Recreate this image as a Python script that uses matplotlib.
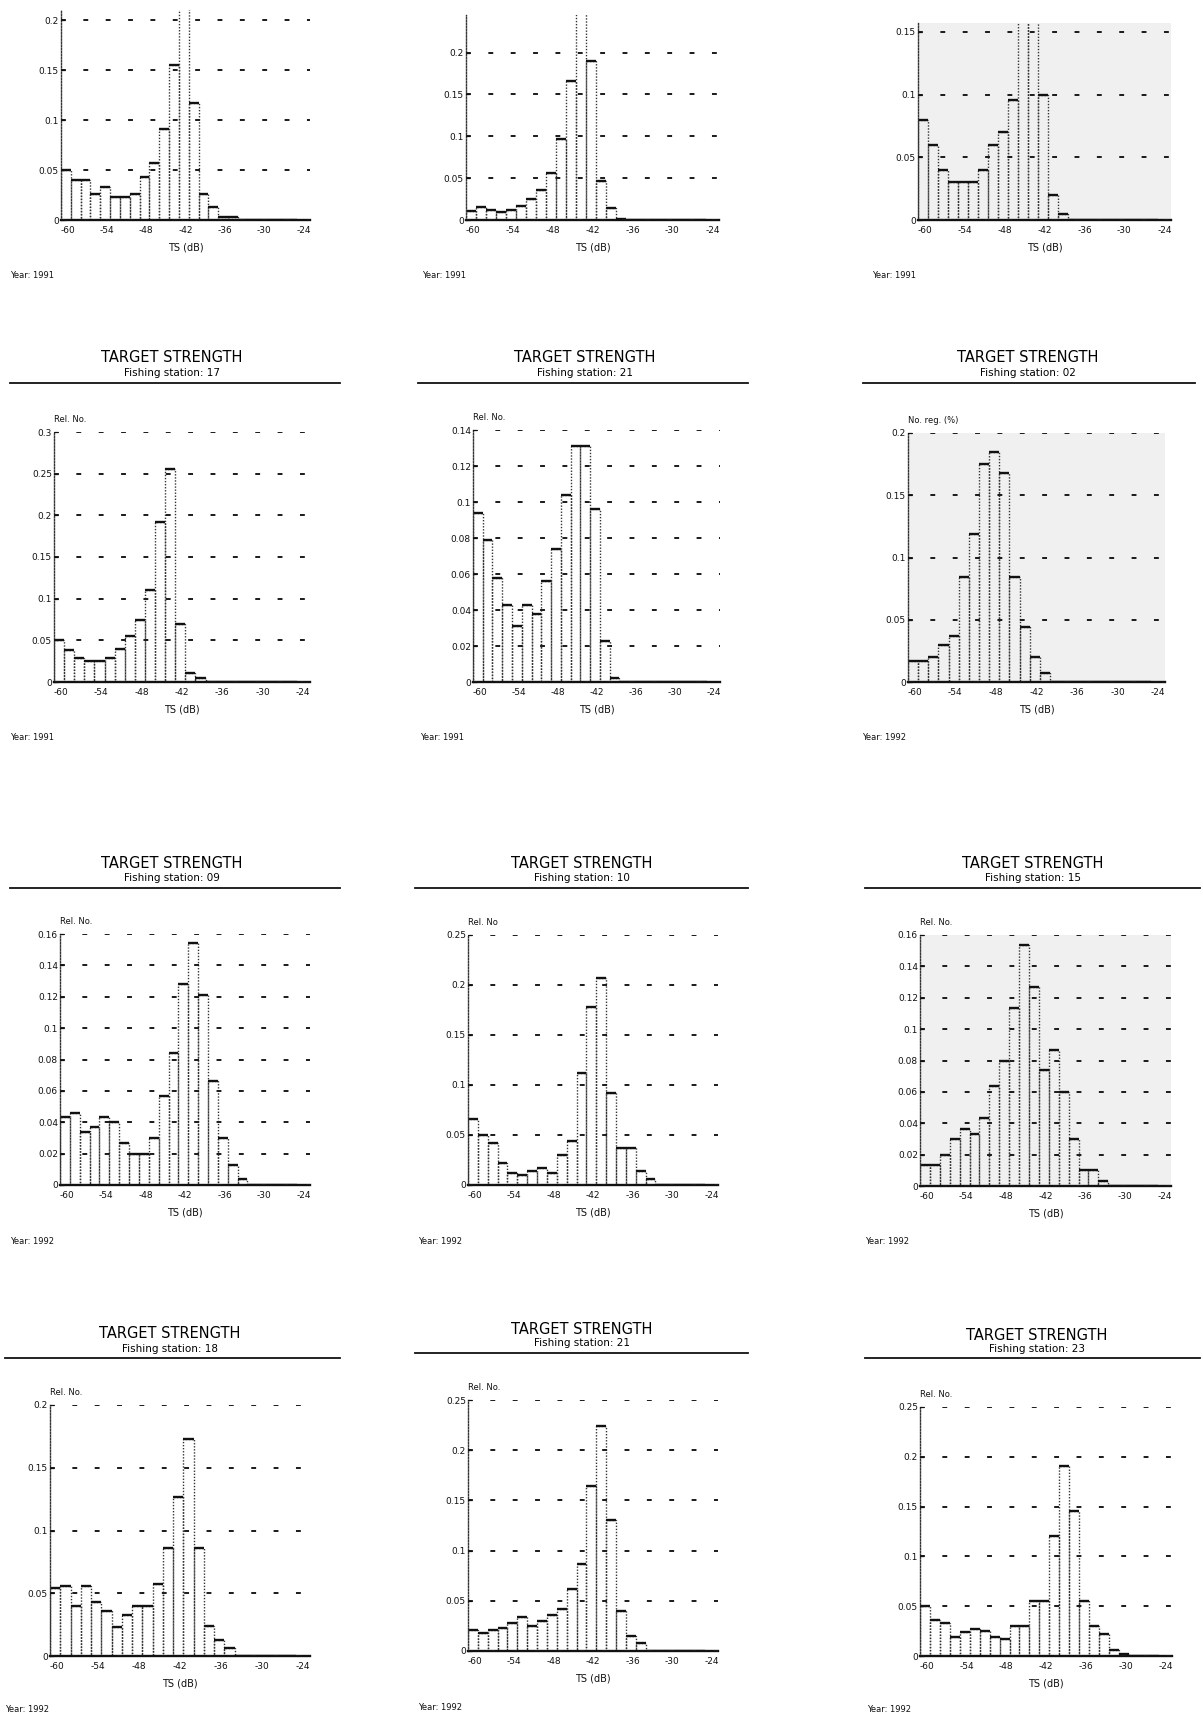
import numpy as np
import matplotlib
matplotlib.use('Agg')
import matplotlib.pyplot as plt
from matplotlib.lines import Line2D

plt.rcParams['font.family'] = ['DejaVu Sans']
plt.rcParams['axes.unicode_minus'] = False

W, H = 1203, 1720

# relative numbers per 1.5 dB TS bin, first bin starts at -61 dB
# (top-row peaks are clipped in the scan, their heights are guesses)
st_a_1991 = [0.05, 0.04, 0.04, 0.026, 0.033, 0.023, 0.023, 0.026, 0.043, 0.057, 0.091, 0.155,
             0.25, 0.117, 0.026, 0.013, 0.003, 0.003]
st_b_1991 = [0.011, 0.015, 0.012, 0.01, 0.012, 0.017, 0.025, 0.036, 0.056, 0.097, 0.166, 0.27,
             0.19, 0.047, 0.014, 0.001]
st_c_1991 = [0.08, 0.06, 0.04, 0.03, 0.03, 0.03, 0.04, 0.06, 0.07, 0.096, 0.18, 0.18,
             0.1, 0.02, 0.005]
st17_1991 = [0.05, 0.039, 0.029, 0.025, 0.025, 0.029, 0.04, 0.055, 0.075, 0.11, 0.192, 0.256,
             0.07, 0.011, 0.005]
st21_1991 = [0.094, 0.079, 0.058, 0.043, 0.031, 0.043, 0.038, 0.056, 0.074, 0.104, 0.131, 0.131,
             0.096, 0.023, 0.0025]
st02_1992 = [0.0166, 0.0166, 0.02, 0.03, 0.037, 0.084, 0.119, 0.175, 0.185, 0.168, 0.084, 0.044,
             0.02, 0.007]
st09_1992 = [0.0436, 0.046, 0.034, 0.037, 0.0436, 0.04, 0.027, 0.02, 0.02, 0.03, 0.057, 0.084,
             0.128, 0.154, 0.121, 0.0666, 0.03, 0.013, 0.0036]
st10_1992 = [0.066, 0.05, 0.042, 0.022, 0.0123, 0.01, 0.014, 0.0173, 0.0123, 0.03, 0.044, 0.112,
             0.178, 0.207, 0.092, 0.037, 0.037, 0.014, 0.006]
st15_1992 = [0.0136, 0.0136, 0.02, 0.03, 0.0366, 0.0334, 0.0435, 0.064, 0.08, 0.1136, 0.1536, 0.127,
             0.0738, 0.087, 0.06, 0.03, 0.01, 0.01, 0.003]
st18_1992 = [0.054, 0.056, 0.04, 0.056, 0.043, 0.036, 0.023, 0.033, 0.04, 0.04, 0.057, 0.086,
             0.127, 0.173, 0.086, 0.024, 0.013, 0.006]
st21_1992 = [0.0207, 0.018, 0.0207, 0.023, 0.028, 0.034, 0.025, 0.03, 0.0357, 0.042, 0.062, 0.087,
             0.164, 0.224, 0.13, 0.04, 0.015, 0.008]
st23_1992 = [0.05, 0.036, 0.033, 0.019, 0.024, 0.027, 0.025, 0.019, 0.017, 0.03, 0.03, 0.055,
             0.055, 0.12, 0.191, 0.146, 0.055, 0.03, 0.022, 0.006, 0.002]

series = [st_a_1991, st_b_1991, st_c_1991, st17_1991, st21_1991, st02_1992,
          st09_1992, st10_1992, st15_1992, st18_1992, st21_1992, st23_1992]
stations = [None, None, None, '17', '21', '02', '09', '10', '15', '18', '21', '23']
years = [1991, 1991, 1991, 1991, 1991, 1992, 1992, 1992, 1992, 1992, 1992, 1992]
ylabels = [None, None, None, 'Rel. No.', 'Rel. No.', 'No. reg. (%)',
           'Rel. No.', 'Rel. No', 'Rel. No.', 'Rel. No.', 'Rel. No.', 'Rel. No.']
ytops = [0.21, 0.245, 0.157, 0.3, 0.14, 0.2, 0.16, 0.25, 0.16, 0.2, 0.25, 0.25]
ysteps = [0.05, 0.05, 0.05, 0.05, 0.02, 0.05, 0.02, 0.05, 0.02, 0.05, 0.05, 0.05]
xticks = [-60, -54, -48, -42, -36, -30, -24]
bin_start, bin_width, n_bins = -61, 1.5, 24

# layout in pixels: axes box (left, top, right, bottom)
boxes = [(61, 10, 310, 220), (466, 15, 719, 220), (918, 23, 1171, 220),
         (54, 432, 310, 682), (473, 430, 720, 682), (908, 433, 1165, 682),
         (60, 934, 310, 1185), (468, 935, 718, 1185), (920, 935, 1171, 1186),
         (50, 1405, 310, 1656), (468, 1400, 718, 1651), (920, 1407, 1172, 1656)]
# header: (center x, title y, station y, rule y, rule x0, rule x1)
headers = [None, None, None,
           (172, 358, 373, 383, 10, 340), (585, 358, 373, 383, 418, 748), (1028, 358, 373, 383, 863, 1195),
           (172, 863, 878, 888, 10, 340), (582, 863, 878, 888, 415, 748), (1033, 863, 878, 888, 865, 1200),
           (170, 1334, 1349, 1358, 5, 340), (582, 1330, 1343, 1353, 415, 748), (1037, 1335, 1349, 1358, 865, 1200)]
year_pos = [(10, 276), (422, 276), (872, 276), (10, 737), (420, 737), (862, 737),
            (10, 1241), (418, 1241), (865, 1241), (5, 1710), (418, 1707), (867, 1710)]
shaded = [False, False, True, False, False, True, False, False, True, False, False, False]


def fx(x):
    return x / W


def fy(y):
    return 1 - y / H


fig = plt.figure(figsize=(W / 100, H / 100), dpi=100)

for i, vals in enumerate(series):
    l, t, r, b = boxes[i]
    ax = fig.add_axes([fx(l), fy(b), fx(r) - fx(l), fy(t) - fy(b)])
    if shaded[i]:
        ax.set_facecolor('#f0f0f0')

    v = np.zeros(n_bins)
    v[:len(vals)] = vals
    edges = bin_start + bin_width * np.arange(n_bins + 1)

    ax.bar(edges[:-1], v, width=bin_width, align='edge', fill=False,
           edgecolor='#333333', linestyle=(0, (1, 1.2)), linewidth=1.0)
    ax.hlines(v, edges[:-1], edges[1:], color='#111111', linewidth=1.7)

    ax.set_xlim(-61, -23)
    ax.set_ylim(0, ytops[i])
    ax.set_xticks(xticks)
    ax.set_xticklabels([str(x) for x in xticks])
    yt = np.arange(0, ytops[i] + 1e-6, ysteps[i])
    ax.set_yticks(yt)
    ax.set_yticklabels(['%g' % round(y, 3) for y in yt])
    ax.yaxis.grid(True, linestyle=(0, (2.5, 9)), color='#1a1a1a', linewidth=1.4)
    ax.set_axisbelow(False)
    ax.tick_params(axis='y', direction='in', length=3, width=0.9, labelsize=6.5, pad=1.5, colors='#111111')
    ax.tick_params(axis='x', length=0, labelsize=6.5, pad=4, colors='#111111')

    for side in ['top', 'right']:
        ax.spines[side].set_visible(False)
    ax.spines['left'].set_linestyle((0, (1, 1.2)))
    ax.spines['left'].set_linewidth(1.0)
    ax.spines['left'].set_color('#333333')
    ax.spines['bottom'].set_linewidth(1.7)
    ax.spines['bottom'].set_color('#111111')

    ax.set_xlabel('TS (dB)', fontsize=7, color='#111111', labelpad=6)
    if ylabels[i]:
        ax.annotate(ylabels[i], xy=(0, 1), xycoords='axes fraction', xytext=(0, 6),
                    textcoords='offset points', ha='left', va='bottom', fontsize=6, color='#111111')

    if headers[i]:
        cx, ty, sy, ly, x0, x1 = headers[i]
        fig.text(fx(cx), fy(ty), 'TARGET STRENGTH', ha='center', va='center', fontsize=10.5, color='#000000')
        fig.text(fx(cx), fy(sy), 'Fishing station: ' + stations[i], ha='center', va='center',
                 fontsize=7.5, color='#000000')
        fig.add_artist(Line2D([fx(x0), fx(x1)], [fy(ly), fy(ly)], color='#111111', linewidth=1.3))

    yx, yy = year_pos[i]
    fig.text(fx(yx), fy(yy), 'Year: %d' % years[i], ha='left', va='center', fontsize=6, color='#111111')

fig.savefig('out.png', dpi=100)
